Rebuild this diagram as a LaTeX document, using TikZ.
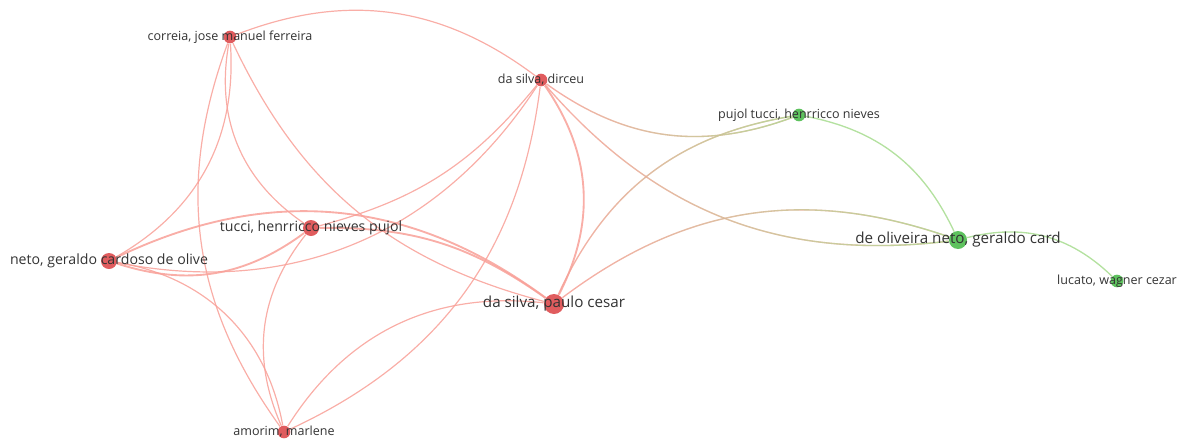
\documentclass[tikz,border=0pt]{standalone}
\usepackage{fontspec}
\setmainfont{Open Sans}
\usetikzlibrary{fadings}
\definecolor{redDot}{RGB}{224,92,94}
\definecolor{greenDot}{RGB}{94,194,94}
\definecolor{redLink}{RGB}{248,160,152}
\definecolor{greenLink}{RGB}{172,222,150}
\definecolor{labelGray}{RGB}{51,51,51}
\pgfdeclarelayer{background}
\pgfsetlayers{background,main}
\tikzset{every picture/.style={line width=0.75pt}}
\tikzset{
  reddot/.style={circle,fill=redDot,inner sep=0pt},
  greendot/.style={circle,fill=greenDot,inner sep=0pt},
  redlink/.style={draw=redLink,line width=0.9pt,opacity=0.85},
  heavylink/.style={draw=redLink,line width=1.4pt,opacity=0.85},
  mixlink/.style={draw=redLink,line width=1pt,opacity=0.85,
    postaction={draw=greenLink,path fading=west}},
  greenlink/.style={draw=greenLink,line width=1pt,opacity=0.9},
  biglabel/.style={text=labelGray,inner sep=0pt,font=\fontsize{11.4}{13}\selectfont},
  midlabel/.style={text=labelGray,inner sep=0pt,font=\fontsize{10.6}{12}\selectfont},
  smalllabel/.style={text=labelGray,inner sep=0pt,font=\fontsize{9.4}{11}\selectfont},
}

\begin{document}
\begin{tikzpicture}[x=0.75pt,y=0.75pt,yscale=-1,xscale=1]
\path[use as bounding box] (0,0) rectangle (1184,443);

% Author dots
\node[reddot,minimum size=9.5pt] (correia) at (230,37) {};
\node[reddot,minimum size=9.5pt] (dirceu) at (541,80) {};
\node[reddot,minimum size=12pt] (tucci) at (311,228) {};
\node[reddot,minimum size=12pt] (netogc) at (109,261) {};
\node[reddot,minimum size=15pt] (paulo) at (554,304) {};
\node[reddot,minimum size=9.5pt] (amorim) at (284,432) {};
\node[greendot,minimum size=9.5pt] (pujol) at (799,115) {};
\node[greendot,minimum size=13.5pt] (oliveira) at (958,240) {};
\node[greendot,minimum size=9.5pt] (lucato) at (1117,281) {};

% Links
\begin{pgfonlayer}{background}
\draw[redlink] (correia) to[bend right=29] (dirceu);
\draw[redlink] (correia) to[bend right=32] (netogc);
\draw[redlink] (correia) to[bend left=28] (amorim);
\draw[redlink] (correia) to[bend left=33] (tucci);
\draw[redlink] (correia) to[bend left=25] (paulo);
\draw[redlink] (dirceu) to[bend right=18] (tucci);
\draw[redlink] (netogc) to[bend left=34] (dirceu);
\draw[redlink] (dirceu) to[bend right=29] (amorim);
\draw[heavylink] (dirceu) to[bend right=31] (paulo);
\draw[heavylink] (netogc) to[bend left=27] (tucci);
\draw[heavylink] (netogc) to[bend right=31] (paulo);
\draw[redlink] (netogc) to[bend right=35] (amorim);
\draw[heavylink] (tucci) to[bend right=18] (paulo);
\draw[redlink] (tucci) to[bend left=31] (amorim);
\draw[redlink] (paulo) to[bend left=32] (amorim);
\draw[mixlink] (dirceu) to[bend left=28] (pujol);
\draw[mixlink] (paulo) to[bend right=28] (pujol);
\draw[mixlink] (dirceu) to[bend left=28] (oliveira);
\draw[mixlink] (paulo) to[bend right=28] (oliveira);
\draw[greenlink] (pujol) to[bend right=27] (oliveira);
\draw[greenlink] (oliveira) to[bend right=29] (lucato);
\end{pgfonlayer}

% Text Node
\node[smalllabel] (correia-t) at (correia) {correia, jose manuel ferreira};
\node[smalllabel] (dirceu-t) at (dirceu) {da silva, dirceu};
\node[midlabel] (tucci-t) at (tucci) {tucci, henrricco nieves pujol};
\node[midlabel] (netogc-t) at (netogc) {neto, geraldo cardoso de olive};
\node[biglabel] (paulo-t) at (paulo) {da silva, paulo cesar};
\node[smalllabel] (amorim-t) at (amorim) {amorim, marlene};
\node[smalllabel] (pujol-t) at (pujol) {pujol tucci, henrricco nieves};
\node[biglabel] (oliveira-t) at (oliveira) {de oliveira neto, geraldo card};
\node[smalllabel] (lucato-t) at (lucato) {lucato, wagner cezar};

\end{tikzpicture}
\end{document}
